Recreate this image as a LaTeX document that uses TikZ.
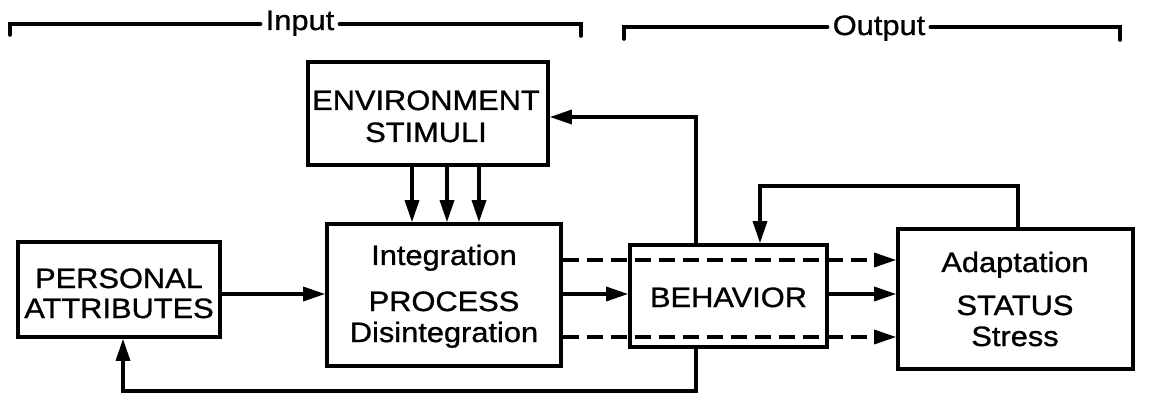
\documentclass[tikz,border=0pt]{standalone}
\usepackage{fontspec}
\setmainfont{Liberation Sans}[FakeStretch=1.1,FakeBold=1]
\usetikzlibrary{arrows.meta}
\begin{document}
\begin{tikzpicture}[x=1pt,y=-1pt,
  box/.style args={#1/#2}{draw,line width=3.6pt,minimum width=#1pt,minimum height=#2pt,inner sep=0pt,rectangle},
  txt/.style={inner sep=0pt,anchor=base,font=\fontsize{28}{30}\selectfont},
  lbl/.style={inner sep=5pt,anchor=base,font=\fontsize{28}{30}\selectfont},
  arr/.style={line width=3.2pt,-{Triangle[length=22pt,width=14pt]}},
  dsh/.style={arr,dash pattern=on 16pt off 8pt},
  brk/.style={line width=3.6pt,line cap=round}]
\useasboundingbox (0,0) rectangle (1149,398);
% boxes
\node[box=240/103] (env)  at (428,113.5) {};
\node[box=234/142] (proc) at (444,295) {};
\node[box=202/95]  (pers) at (119,289.5) {};
\node[box=197/102] (beh)  at (728.5,296) {};
\node[box=235/140] (stat) at (1015.5,299) {};
% texts
\node[txt] (t1) at (426,110) {ENVIRONMENT};
\node[txt] (t2) at (426,142) {STIMULI};
\node[txt] (t3) at (119,288) {PERSONAL};
\node[txt] (t4) at (119,318) {ATTRIBUTES};
\node[txt] (t5) at (444,265) {Integration};
\node[txt] (t6) at (444,311) {PROCESS};
\node[txt] (t7) at (444,342) {Disintegration};
\node[txt] (t8) at (728.5,307) {BEHAVIOR};
\node[txt] (t9) at (1015,272) {Adaptation};
\node[txt] (t10) at (1015,315) {STATUS};
\node[txt] (t11) at (1015,346) {Stress};
% brackets
\node[lbl] (in) at (300,30) {Input};
\node[lbl] (out) at (879,35) {Output};
\coordinate (iy) at (0,24);
\coordinate (oy) at (0,27);
\coordinate (iL) at (10,35);
\coordinate (iR) at (581,36);
\coordinate (oL) at (624,39);
\coordinate (oR) at (1120,40);
\draw[brk] (iL) -- (iL |- iy) -- (in.west |- iy);
\draw[brk] (in.east |- iy) -- (iR |- iy) -- (iR);
\draw[brk] (oL) -- (oL |- oy) -- (out.west |- oy);
\draw[brk] (out.east |- oy) -- (oR |- oy) -- (oR);
% coordinates for connectors
\coordinate (e1) at (412,0);
\coordinate (e2) at (447,0);
\coordinate (e3) at (479,0);
\coordinate (ya) at (0,294);
\coordinate (yU) at (0,260);
\coordinate (yL) at (0,337);
\coordinate (fbx) at (696,0);
\coordinate (fty) at (0,117);
\coordinate (fby) at (0,391);
\coordinate (pfx) at (123,0);
\coordinate (sx) at (1018,0);
\coordinate (sy) at (0,186);
\coordinate (bx) at (760,0);
% connectors
\draw[arr] (env.south -| e1) -- (proc.north -| e1);
\draw[arr] (env.south -| e2) -- (proc.north -| e2);
\draw[arr] (env.south -| e3) -- (proc.north -| e3);
\draw[arr] (pers.east |- ya) -- (proc.west |- ya);
\draw[arr] (proc.east |- ya) -- (beh.west |- ya);
\draw[arr] (beh.east |- ya) -- (stat.west |- ya);
\draw[dsh] (proc.east |- yU) -- (stat.west |- yU);
\draw[dsh] (proc.east |- yL) -- (stat.west |- yL);
\draw[arr] (beh.north -| fbx) -- (fbx |- fty) -- (env.east |- fty);
\draw[arr] (beh.south -| fbx) -- (fbx |- fby) -- (pfx |- fby) -- (pers.south -| pfx);
\draw[arr] (stat.north -| sx) -- (sx |- sy) -- (bx |- sy) -- (beh.north -| bx);
\end{tikzpicture}
\end{document}
